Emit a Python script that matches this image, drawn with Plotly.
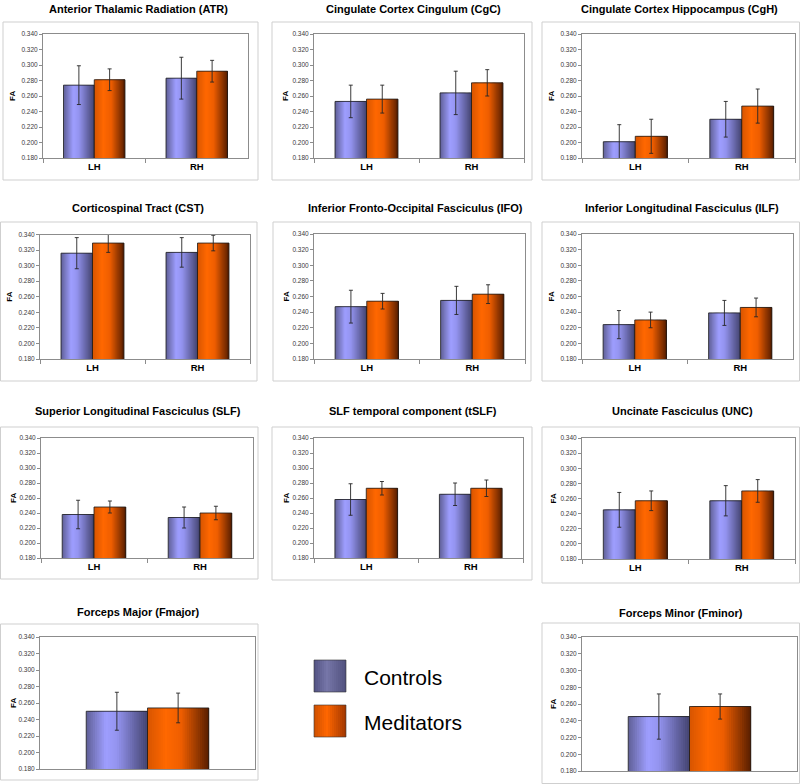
import plotly.graph_objects as go

W, H = 800, 784

# ---------------- data ----------------
titles = [
    "Anterior Thalamic Radiation (ATR)",
    "Cingulate Cortex Cingulum (CgC)",
    "Cingulate Cortex Hippocampus (CgH)",
    "Corticospinal Tract (CST)",
    "Inferior Fronto-Occipital Fasciculus (IFO)",
    "Inferior Longitudinal Fasciculus (ILF)",
    "Superior Longitudinal Fasciculus (SLF)",
    "SLF temporal component (tSLF)",
    "Uncinate Fasciculus (UNC)",
    "Forceps Major (Fmajor)",
    "Forceps Minor (Fminor)",
]
hemispheres = ["LH", "RH"]
single_category = ["all"]
series_names = ["Controls", "Meditators"]
y_axis_title = "FA"
y_range = [0.18, 0.34]

controls_mean = [
    [0.274, 0.283], [0.253, 0.264], [0.201, 0.230], [0.316, 0.317],
    [0.247, 0.255], [0.224, 0.239], [0.238, 0.234], [0.258, 0.265],
    [0.245, 0.257], [0.250], [0.245],
]
controls_err = [
    [0.025, 0.027], [0.021, 0.028], [0.022, 0.023], [0.020, 0.019],
    [0.021, 0.018], [0.018, 0.016], [0.019, 0.014], [0.021, 0.015],
    [0.023, 0.020], [0.023], [0.027],
]
meditators_mean = [
    [0.281, 0.292], [0.256, 0.277], [0.208, 0.247], [0.329, 0.329],
    [0.254, 0.263], [0.230, 0.246], [0.248, 0.240], [0.273, 0.273],
    [0.257, 0.270], [0.254], [0.257],
]
meditators_err = [
    [0.014, 0.014], [0.018, 0.017], [0.022, 0.022], [0.012, 0.010],
    [0.010, 0.012], [0.010, 0.012], [0.008, 0.009], [0.009, 0.011],
    [0.013, 0.015], [0.018], [0.015],
]

# ---------------- layout geometry (pixels) ----------------
plot_px = [
    (43, 248, 34, 158), (314, 524, 34, 158), (582, 795, 34, 158),
    (40, 250, 234.5, 359), (314, 525, 234, 359), (582, 793, 234, 359),
    (41, 253, 438, 558), (314, 523, 438, 558), (582, 795, 438, 559),
    (40, 255, 637, 769), (582, 797, 637, 771),
]
box_px = [
    (3, 258, 22, 180), (272, 532, 22, 180), (542, 799.5, 22, 180),
    (0.5, 257, 222, 381), (273, 531, 222, 381), (542, 799.5, 222, 381),
    (0.5, 258, 427, 579), (272, 532, 427, 580), (542, 799.5, 427, 583),
    (0.5, 258, 624, 780), (542, 799.5, 623, 783.5),
]
title_pos = [
    (138, 9), (414, 9), (679, 9),
    (138, 208), (415, 208), (682, 208),
    (138, 411), (413, 411), (682, 411),
    (138, 612), (681, 613),
]
fa_x = [12, 285, 551, 10, 286, 551, 13, 286, 553, 13, 553]

FONT = "Liberation Sans, Arial, sans-serif"

ctrl_stops = [(0.0, (95, 95, 150)), (0.32, (158, 158, 255)), (0.5, (148, 148, 240)),
              (1.0, (68, 68, 112))]
med_stops = [(0.0, (215, 85, 0)), (0.3, (255, 104, 0)), (0.55, (238, 94, 0)),
             (1.0, (88, 30, 0))]


def grad(stops, t):
    for (t0, c0), (t1, c1) in zip(stops[:-1], stops[1:]):
        if t0 <= t <= t1:
            f = (t - t0) / (t1 - t0)
            c = [round(a + (b - a) * f) for a, b in zip(c0, c1)]
            return "rgb(%d,%d,%d)" % tuple(c)
    return "rgb(%d,%d,%d)" % stops[-1][1]


def px_x(v):
    return v / W


def px_y(v):
    return 1 - v / H


fig = go.Figure()
layout_axes = {}
annotations = []
shapes = []
N = 28

for i in range(len(titles)):
    s = "" if i == 0 else str(i + 1)
    two = len(controls_mean[i]) == 2
    cats = hemispheres if two else single_category
    bw = 0.30 if two else 0.285
    for mean, err, stops, off0 in [
        (controls_mean[i], controls_err[i], ctrl_stops, -bw),
        (meditators_mean[i], meditators_err[i], med_stops, 0.0),
    ]:
        step = bw / N
        for k in range(N):
            t = (k + 0.5) / N
            w = min(3 * step, bw - k * step)
            fig.add_trace(go.Bar(
                x=cats, y=mean, xaxis="x" + s, yaxis="y" + s,
                offset=off0 + k * step, width=w,
                marker=dict(color=grad(stops, t), line=dict(width=0)),
                showlegend=False, hoverinfo="skip",
            ))
        fig.add_trace(go.Bar(
            x=cats, y=mean, xaxis="x" + s, yaxis="y" + s,
            offset=off0, width=bw,
            marker=dict(color="rgba(0,0,0,0)", line=dict(color="#1a1a1a", width=0.8)),
            error_y=dict(type="data", array=err, color="#262626", thickness=0.9, width=2),
            showlegend=False, hoverinfo="skip",
        ))

    x0, x1, yt, yb = plot_px[i]
    layout_axes["xaxis" + s] = dict(
        domain=[px_x(x0), px_x(x1)], anchor="y" + s, type="category",
        range=[-0.5, len(cats) - 0.5],
        showline=True, mirror=True, linecolor="#8c8c8c", linewidth=1,
        ticks="outside" if two else "", tickson="boundaries", ticklen=4,
        tickcolor="#8c8c8c",
        showticklabels=two,
        tickfont=dict(family=FONT, size=9.5, color="black", weight="bold"),
        showgrid=False, zeroline=False, fixedrange=True,
    )
    layout_axes["yaxis" + s] = dict(
        domain=[px_y(yb), px_y(yt)], anchor="x" + s,
        range=y_range, tick0=0.18, dtick=0.02, tickformat=".3f",
        ticks="outside", ticklen=3, tickcolor="#8c8c8c",
        tickfont=dict(family=FONT, size=6.5, color="#3a3a3a"),
        showline=True, mirror=True, linecolor="#8c8c8c", linewidth=1,
        showgrid=False, zeroline=False, fixedrange=True,
    )
    bx0, bx1, by0, by1 = box_px[i]
    shapes.append(dict(type="rect", xref="paper", yref="paper",
                       x0=px_x(bx0), x1=px_x(bx1), y0=px_y(by1), y1=px_y(by0),
                       line=dict(color="#cfcfcf", width=1), fillcolor="rgba(0,0,0,0)",
                       layer="below"))
    tx, ty = title_pos[i]
    annotations.append(dict(text="<b>%s</b>" % titles[i], xref="paper", yref="paper",
                            x=px_x(tx), y=px_y(ty), xanchor="center", yanchor="middle",
                            showarrow=False, font=dict(family=FONT, size=11, color="black")))
    annotations.append(dict(text="<b>%s</b>" % y_axis_title, xref="paper", yref="paper",
                            x=px_x(fa_x[i]), y=px_y((yt + yb) / 2), xanchor="center",
                            yanchor="middle", textangle=-90, showarrow=False,
                            font=dict(family=FONT, size=8, color="black")))

# ---------------- legend (drawn manually) ----------------
leg_ctrl = [(0.0, (82, 82, 130)), (0.4, (118, 118, 168)), (1.0, (80, 80, 125))]
leg_med = [(0.0, (205, 80, 0)), (0.4, (255, 102, 0)), (1.0, (160, 55, 0))]
legend_items = [(series_names[0], leg_ctrl, 660, 692), (series_names[1], leg_med, 705, 737)]
LX0, LX1 = 314, 346
M = 16
for name, stops, y0, y1 in legend_items:
    for k in range(M):
        sx0 = LX0 + (LX1 - LX0) * k / M
        sx1 = LX0 + (LX1 - LX0) * (k + 2) / M
        shapes.append(dict(type="rect", xref="paper", yref="paper",
                           x0=px_x(sx0), x1=px_x(min(sx1, LX1)), y0=px_y(y1), y1=px_y(y0),
                           line=dict(width=0), fillcolor=grad(stops, (k + 0.5) / M)))
    shapes.append(dict(type="rect", xref="paper", yref="paper",
                       x0=px_x(LX0), x1=px_x(LX1), y0=px_y(y1), y1=px_y(y0),
                       line=dict(color="#333333", width=0.6), fillcolor="rgba(0,0,0,0)"))
    annotations.append(dict(text=name, xref="paper", yref="paper",
                            x=px_x(362), y=px_y((y0 + y1) / 2 + 1.5), xanchor="left",
                            yanchor="middle", showarrow=False,
                            font=dict(family=FONT, size=21, color="black")))

fig.update_layout(
    template="none",
    width=W, height=H,
    margin=dict(l=0, r=0, t=0, b=0),
    paper_bgcolor="white", plot_bgcolor="white",
    barmode="overlay", showlegend=False,
    annotations=annotations, shapes=shapes,
    hovermode=False,
    **layout_axes,
)

fig.write_html(
    "out.html",
    config={"displayModeBar": False},
    post_script="document.body.style.margin='0';document.body.style.padding='0';"
                "document.body.style.overflow='hidden';",
)
